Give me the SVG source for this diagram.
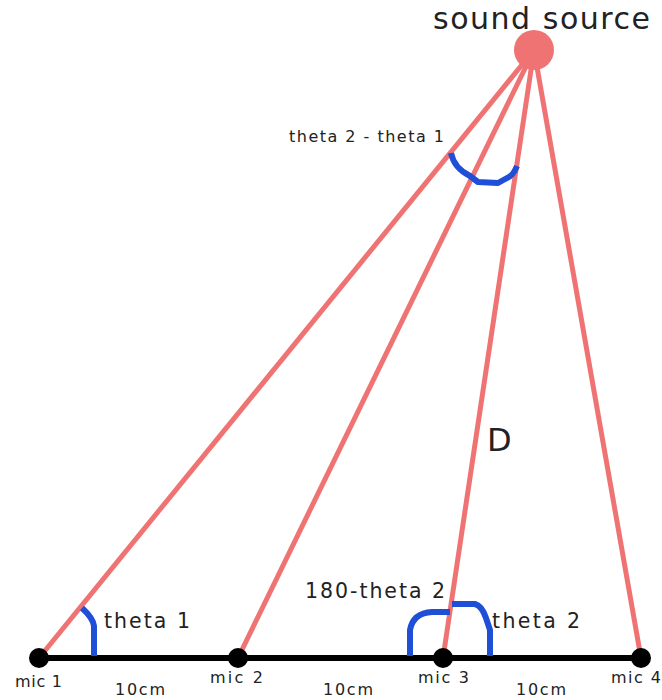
<svg xmlns="http://www.w3.org/2000/svg" width="662" height="700" viewBox="0 0 662 700">
<style>
.ray{stroke:#f07374;stroke-width:5;fill:none}
.arc{stroke:#1f4fd6;stroke-width:6;fill:none;stroke-linejoin:round}
.t{font-family:"DejaVu Sans","Liberation Sans",sans-serif;fill:#222}
.mic{fill:#000}
</style>
<rect width="662" height="700" fill="#fff"/>
<g id="connectors">
<line class="ray" x1="534" y1="50" x2="39" y2="658"/>
<line class="ray" x1="534" y1="50" x2="238" y2="658"/>
<line class="ray" x1="534" y1="50" x2="443" y2="658"/>
<line class="ray" x1="534" y1="50" x2="641" y2="658"/>
<line x1="39" y1="658" x2="641" y2="658" stroke="#000" stroke-width="6"/>
</g>
<g id="angles">
<path class="arc" d="M451,153 Q454,168 470,176 L478,182 L498,183 L507,178 Q513,176 517,166"/>
<path class="arc" d="M94,656 L94,626 Q93,618 82,608"/>
<path class="arc" d="M410,656 L410,630 Q413,613 432,612 L450,612"/>
<path class="arc" d="M452,604 L475,604 Q482,606 486,618 L490,630 L490,656"/>
</g>
<g id="source">
<circle cx="534" cy="50" r="20" fill="#f07374"/>
<text class="t" x="433" y="29" font-size="30" textLength="217" lengthAdjust="spacing">sound source</text>
</g>
<g id="mic1"><circle class="mic" cx="39" cy="658" r="10"/><text class="t" x="15" y="687" font-size="16" textLength="47" lengthAdjust="spacing">mic 1</text></g>
<g id="mic2"><circle class="mic" cx="238" cy="658" r="10"/><text class="t" x="210" y="683" font-size="16" textLength="53" lengthAdjust="spacing">mic 2</text></g>
<g id="mic3"><circle class="mic" cx="443" cy="658" r="10"/><text class="t" x="418" y="683" font-size="16" textLength="51" lengthAdjust="spacing">mic 3</text></g>
<g id="mic4"><circle class="mic" cx="641" cy="658" r="10"/><text class="t" x="611" y="683" font-size="16" textLength="50" lengthAdjust="spacing">mic 4</text></g>
<g id="labels">
<text class="t" x="289" y="142" font-size="16" textLength="155" lengthAdjust="spacing">theta 2 - theta 1</text>
<text class="t" x="487" y="451" font-size="32">D</text>
<text class="t" x="305" y="598" font-size="20.5" textLength="140" lengthAdjust="spacing">180-theta 2</text>
<text class="t" x="104" y="628" font-size="20.5" textLength="86" lengthAdjust="spacing">theta 1</text>
<text class="t" x="492" y="628" font-size="20.5" textLength="88" lengthAdjust="spacing">theta 2</text>
<text class="t" x="115" y="695" font-size="16" textLength="50" lengthAdjust="spacing">10cm</text>
<text class="t" x="323" y="695" font-size="16" textLength="50" lengthAdjust="spacing">10cm</text>
<text class="t" x="516" y="695" font-size="16" textLength="50" lengthAdjust="spacing">10cm</text>
</g>
</svg>
